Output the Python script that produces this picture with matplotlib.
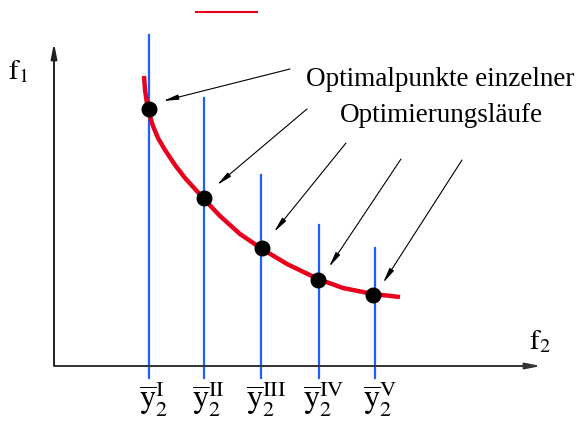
import matplotlib.pyplot as plt

plt.rcParams['mathtext.fontset'] = 'stix'
plt.rcParams['font.family'] = 'Liberation Serif'

# Pareto front sketch, coordinates in drawing units (y grows downward)
curve_x = [144, 145, 148, 153, 158, 165, 175, 185, 195, 204, 220, 240,
           262, 287, 318, 343, 373, 400]
curve_y = [76, 90, 110, 126, 138, 150, 165, 178, 189, 199, 216, 234,
           249, 264, 279, 288, 294, 297]

# optimum of each run
opt_x = [149, 204, 262, 318, 373]
opt_y = [109, 198, 248, 280, 295]

# constraint lines y2 = const
line_x = [149, 204, 261, 319, 375]
line_top = [35, 98, 175, 225, 248]
line_bottom = 378

tick_labels = ['I', 'II', 'III', 'IV', 'V']

# annotation arrows: start -> tip
arrow_start = [(290, 69), (307, 109), (346, 143), (401, 159), (462, 160)]
arrow_tip = [(163, 101), (217, 185), (274, 232), (329, 267), (383, 283)]

fig = plt.figure(figsize=(5.77, 4.23), dpi=100)
ax = fig.add_axes([0, 0, 1, 1])
ax.set_xlim(0, 577)
ax.set_ylim(423, 0)
ax.axis('off')

# axes with arrows
ax.annotate('', xy=(541, 366), xytext=(55, 366),
            arrowprops=dict(arrowstyle='-|>,head_length=0.9,head_width=0.18',
                            color='#333333', lw=1.4, shrinkA=0, shrinkB=0))
ax.annotate('', xy=(54, 43), xytext=(54, 366),
            arrowprops=dict(arrowstyle='-|>,head_length=0.9,head_width=0.18',
                            color='#222222', lw=1.4, shrinkA=0, shrinkB=0))
ax.text(8, 72, r'$\mathrm{f}_1$', fontsize=21, va='center', ha='left')
ax.text(529, 342, r'$\mathrm{f}_2$', fontsize=21, va='center', ha='left')

# constraint lines
for x, top in zip(line_x, line_top):
    ax.plot([x, x], [top, line_bottom], color='#1f5fff', lw=1.6, zorder=2)

# front
ax.plot(curve_x, curve_y, color='#e8001c', lw=3.2, solid_capstyle='butt',
        solid_joinstyle='round', zorder=3)
ax.plot([196, 257], [12, 12], color='#e8001c', lw=1.5)

# optima
ax.plot(opt_x, opt_y, 'o', color='black', markersize=10.5, zorder=4)

# arrows to optima
for s, t in zip(arrow_start, arrow_tip):
    ax.annotate('', xy=t, xytext=s,
                arrowprops=dict(arrowstyle='-|>,head_length=0.9,head_width=0.15',
                                color='black', lw=0.8, shrinkA=0, shrinkB=0))

ax.text(440, 80, 'Optimalpunkte einzelner', fontsize=19.5, ha='center', va='center')
ax.text(441, 115, 'Optimierungsläufe', fontsize=19.5, ha='center', va='center')

# tick labels under the constraint lines
for x, lab in zip(line_x, tick_labels):
    ax.text(x + 5, 398, r'$\overline{\mathrm{y}}_2^{\mathrm{%s}}$' % lab,
            fontsize=23, ha='center', va='center')

fig.savefig('out.png', dpi=100)
